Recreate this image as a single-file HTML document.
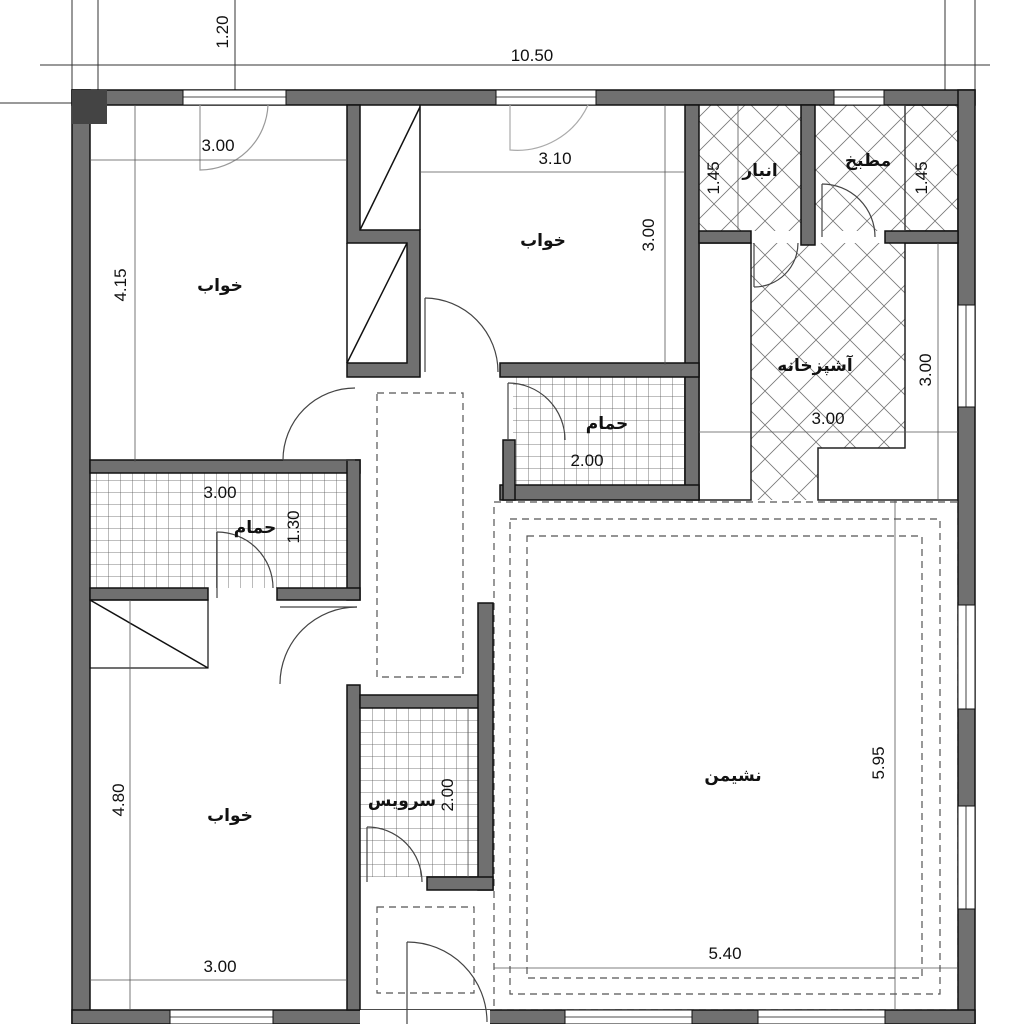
<!DOCTYPE html>
<html><head><meta charset="utf-8"><style>
html,body{margin:0;padding:0;background:#fff;width:1024px;height:1024px;overflow:hidden}
text{font-family:"Liberation Sans","DejaVu Sans",sans-serif;fill:#111}
.ar{font-family:"DejaVu Sans","Noto Sans CJK SC",sans-serif;font-weight:bold;font-size:17px}
.d{font-size:17px}
</style></head><body>
<svg width="1024" height="1024" viewBox="0 0 1024 1024" xmlns="http://www.w3.org/2000/svg">
<defs>
<pattern id="grid" width="12" height="12" patternUnits="userSpaceOnUse">
<path d="M0 0H12M0 0V12" stroke="#555" stroke-width="0.8" fill="none"/></pattern>
<pattern id="diag" width="34" height="34" patternUnits="userSpaceOnUse">
<path d="M0 0L34 34M34 0L0 34" stroke="#777" stroke-width="0.8" fill="none"/></pattern>
</defs>
<g stroke="#333" stroke-width="1" fill="none">
<line x1="72" y1="0" x2="72" y2="90"/><line x1="98" y1="0" x2="98" y2="90"/>
<line x1="235" y1="0" x2="235" y2="90"/><line x1="945" y1="0" x2="945" y2="90"/><line x1="975" y1="0" x2="975" y2="90"/>
<line x1="40" y1="65" x2="990" y2="65"/><line x1="0" y1="103" x2="110" y2="103"/>
</g>
<text class="d" x="532" y="61" text-anchor="middle">10.50</text>
<text class="d" transform="translate(228,32) rotate(-90)" text-anchor="middle">1.20</text>
<rect x="90" y="473" width="257" height="115" fill="url(#grid)"/>
<rect x="513" y="377" width="172" height="108" fill="url(#grid)"/>
<rect x="360" y="708" width="118" height="169" fill="url(#grid)"/>
<rect x="699" y="105" width="102" height="126" fill="url(#diag)"/>
<rect x="815" y="105" width="143" height="126" fill="url(#diag)"/>
<path d="M751 243H905V448H818V500H751Z" fill="url(#diag)"/>
<g fill="#fff" stroke="#222" stroke-width="1.5">
<rect x="699" y="243" width="52" height="257"/>
<path d="M905 243H958V500H818V448H905Z"/>
<rect x="905" y="105" width="53" height="126" fill="none"/>
</g>
<g fill="none" stroke="#555" stroke-width="1.2" stroke-dasharray="7,5">
<rect x="377" y="393" width="86" height="284"/>
<rect x="377" y="907" width="97" height="86"/>
<rect x="494" y="502" width="464" height="508"/>
<rect x="510" y="519" width="430" height="475"/>
<rect x="527" y="536" width="395" height="442"/>
</g>
<g fill="#707070" stroke="#111" stroke-width="1.5">
<rect x="72" y="90" width="903" height="15"/>
<rect x="72" y="90" width="18" height="934"/>
<rect x="958" y="90" width="17" height="934"/>
<rect x="72" y="1010" width="903" height="14"/>
<path d="M347 105H360V230H420V377H347V363H407V243H347Z"/>
<rect x="90" y="460" width="270" height="13"/>
<rect x="347" y="460" width="13" height="140"/>
<rect x="90" y="588" width="118" height="12"/>
<rect x="277" y="588" width="83" height="12"/>
<rect x="347" y="685" width="13" height="325"/>
<rect x="360" y="695" width="120" height="13"/>
<rect x="478" y="603" width="15" height="287"/>
<rect x="427" y="877" width="66" height="13"/>
<rect x="685" y="105" width="14" height="395"/>
<rect x="500" y="363" width="199" height="14"/>
<rect x="500" y="485" width="199" height="15"/>
<rect x="503" y="440" width="12" height="60"/>
<rect x="801" y="105" width="14" height="140"/>
<rect x="699" y="231" width="52" height="12"/>
<rect x="885" y="231" width="73" height="12"/>
</g>
<rect x="72" y="90" width="35" height="34" fill="#444"/>
<g fill="#fff" stroke="#111" stroke-width="1">
<rect x="183" y="90" width="103" height="15"/><rect x="496" y="90" width="100" height="15"/><rect x="834" y="90" width="50" height="15"/>
<rect x="958" y="305" width="17" height="102"/><rect x="958" y="605" width="17" height="104"/><rect x="958" y="806" width="17" height="103"/>
<rect x="170" y="1010" width="103" height="14"/><rect x="565" y="1010" width="127" height="14"/><rect x="758" y="1010" width="127" height="14"/>
<rect x="360" y="1010" width="130" height="14" stroke="none"/>
</g>
<g stroke="#111" stroke-width="0.8">
<line x1="183" y1="97" x2="286" y2="97"/><line x1="496" y1="97" x2="596" y2="97"/><line x1="834" y1="97" x2="884" y2="97"/>
<line x1="966" y1="305" x2="966" y2="407"/><line x1="966" y1="605" x2="966" y2="709"/><line x1="966" y1="806" x2="966" y2="909"/>
<line x1="170" y1="1017" x2="273" y2="1017"/><line x1="565" y1="1017" x2="692" y2="1017"/><line x1="758" y1="1017" x2="885" y2="1017"/>
</g>
<g stroke="#111" stroke-width="1.5" fill="none">
<line x1="420" y1="105" x2="420" y2="230"/><line x1="347" y1="243" x2="347" y2="363"/>
<line x1="360" y1="230" x2="420" y2="107"/><line x1="347" y1="363" x2="407" y2="243"/>
<rect x="90" y="600" width="118" height="68" stroke-width="1.2"/><line x1="90" y1="600" x2="208" y2="668"/>
</g>
<g fill="none" stroke="#444" stroke-width="1.2">
<path d="M283 460A72 72 0 0 1 355 388"/><line x1="283" y1="460" x2="355" y2="460"/>
<path d="M425 298A74 74 0 0 1 498 372"/><line x1="425" y1="298" x2="425" y2="372"/>
<path d="M217 532A56 56 0 0 1 273 588"/><line x1="217" y1="532" x2="217" y2="598"/>
<path d="M357 607A77 77 0 0 0 280 684"/><line x1="280" y1="607" x2="357" y2="607"/>
<path d="M508 383A57 57 0 0 1 565 440"/><line x1="508" y1="383" x2="508" y2="440"/>
<path d="M367 827A55 55 0 0 1 422 882"/><line x1="367" y1="827" x2="367" y2="882"/>
<path d="M754 287A44 44 0 0 0 798 243"/><line x1="754" y1="243" x2="754" y2="287"/>
<path d="M822 184A53 53 0 0 1 875 237"/><line x1="822" y1="184" x2="822" y2="237"/>
<path d="M407 942A80 80 0 0 1 487 1022"/><line x1="407" y1="942" x2="407" y2="1024"/>
<path d="M200 105V170A68 68 0 0 0 268 105" stroke="#999"/>
<path d="M510 105V150A78 78 0 0 0 588 105" stroke="#aaa"/>
</g>
<g stroke="#555" stroke-width="0.8" fill="none">
<line x1="90" y1="160" x2="347" y2="160"/><line x1="135" y1="105" x2="135" y2="462"/>
<line x1="420" y1="172" x2="685" y2="172"/><line x1="665" y1="105" x2="665" y2="365"/>
<line x1="738" y1="105" x2="738" y2="231"/><line x1="905" y1="105" x2="905" y2="231"/>
<line x1="699" y1="432" x2="958" y2="432"/><line x1="938" y1="243" x2="938" y2="500"/>
<line x1="90" y1="980" x2="347" y2="980"/><line x1="130" y1="600" x2="130" y2="1010"/>
<line x1="494" y1="968" x2="958" y2="968"/><line x1="895" y1="500" x2="895" y2="1010"/>
<line x1="468" y1="708" x2="468" y2="877"/>
</g>
<text class="d" x="218" y="151" text-anchor="middle">3.00</text>
<text class="d" x="555" y="164" text-anchor="middle">3.10</text>
<text class="d" x="828" y="424" text-anchor="middle">3.00</text>
<text class="d" x="587" y="466" text-anchor="middle">2.00</text>
<text class="d" x="220" y="498" text-anchor="middle">3.00</text>
<text class="d" x="220" y="972" text-anchor="middle">3.00</text>
<text class="d" x="725" y="959" text-anchor="middle">5.40</text>
<text class="d" transform="translate(126,285) rotate(-90)" text-anchor="middle">4.15</text>
<text class="d" transform="translate(654,235) rotate(-90)" text-anchor="middle">3.00</text>
<text class="d" transform="translate(719,178) rotate(-90)" text-anchor="middle">1.45</text>
<text class="d" transform="translate(927,178) rotate(-90)" text-anchor="middle">1.45</text>
<text class="d" transform="translate(931,370) rotate(-90)" text-anchor="middle">3.00</text>
<text class="d" transform="translate(299,527) rotate(-90)" text-anchor="middle">1.30</text>
<text class="d" transform="translate(453,795) rotate(-90)" text-anchor="middle">2.00</text>
<text class="d" transform="translate(124,800) rotate(-90)" text-anchor="middle">4.80</text>
<text class="d" transform="translate(884,763) rotate(-90)" text-anchor="middle">5.95</text>
<text class="ar" x="220" y="291" text-anchor="middle">خواب</text>
<text class="ar" x="543" y="246" text-anchor="middle">خواب</text>
<text class="ar" x="230" y="821" text-anchor="middle">خواب</text>
<text class="ar" x="760" y="176" text-anchor="middle">انبار</text>
<text class="ar" x="868" y="166" text-anchor="middle">مطبخ</text>
<text class="ar" x="815" y="371" text-anchor="middle">آشپزخانه</text>
<text class="ar" x="607" y="429" text-anchor="middle">حمام</text>
<text class="ar" x="255" y="533" text-anchor="middle">حمام</text>
<text class="ar" x="402" y="806" text-anchor="middle">سرویس</text>
<text class="ar" x="733" y="781" text-anchor="middle">نشیمن</text>
</svg>
</body></html>
